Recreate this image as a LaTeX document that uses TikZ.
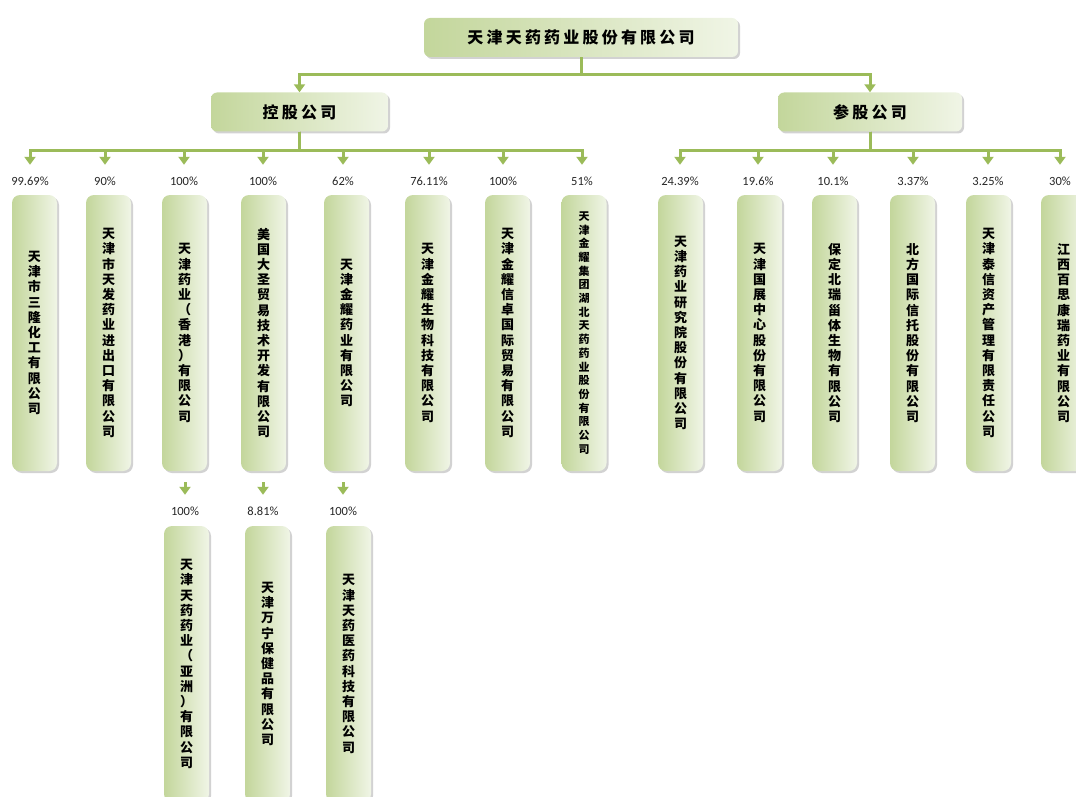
\documentclass[tikz,border=0pt]{standalone}
\usepackage{fontspec}
\setmainfont{Carlito}
\newfontfamily\cjk{Noto Sans CJK SC}
\usetikzlibrary{arrows.meta,shadows}
\definecolor{linegreen}{HTML}{9BBB59}
\definecolor{boxdark}{HTML}{C3D69B}
\definecolor{boxlight}{HTML}{F0F5E6}
% one character per line
\newcommand\vchars[1]{\vcharsloop#1\relax}
\def\vcharsloop#1{\ifx#1\relax\else#1\par\expandafter\vcharsloop\fi}
\tikzstyle{title}=[rectangle,rounded corners=6pt,minimum height=39pt,text centered,left color=boxdark,right color=boxlight,drop shadow={shadow xshift=2pt,shadow yshift=-2pt,fill=black!35},font=\cjk\bfseries\fontsize{16}{18}\selectfont\addfontfeature{LetterSpace=20}]
\tikzstyle{company}=[rectangle,rounded corners=8pt,minimum width=45pt,minimum height=276pt,text width=16pt,align=center,inner sep=0pt,left color=boxdark,right color=boxlight,drop shadow={shadow xshift=2pt,shadow yshift=-2pt,fill=black!35},font=\cjk\bfseries\fontsize{13}{15.2}\selectfont]
\tikzstyle{smallcompany}=[company,font=\cjk\bfseries\fontsize{11}{13.7}\selectfont]
\tikzstyle{pct}=[inner sep=0pt,text height=8pt,text depth=0pt,text=black!85,font=\fontsize{12.5}{12.5}\selectfont]
\tikzstyle{arrow}=[line width=3pt,draw=linegreen,-{Triangle[width=11pt,length=8pt]}]

\begin{document}
\begin{tikzpicture}[x=1pt,y=-1pt]
            \useasboundingbox (0,0) rectangle (1076,797);
            \node (top)[title,minimum width=314pt] at (581,37.5) {天津天药药业股份有限公司};
            \node (kg)[title,minimum width=177pt] at (299.5,112) {控股公司};
            \node (cg)[title,minimum width=184pt] at (870,112) {参股公司};
            \draw [arrow] (top.south) -- ++(0,17) -| (kg.north);
            \draw [arrow] (top.south) -- ++(0,17) -| (cg.north);
            % 控股公司
            \node (pA1)[pct] at (30,181) {99.69\%};
            \node (pA2)[pct] at (105,181) {90\%};
            \node (pA3)[pct] at (184,181) {100\%};
            \node (pA4)[pct] at (263,181) {100\%};
            \node (pA5)[pct] at (343,181) {62\%};
            \node (pA6)[pct] at (429,181) {76.11\%};
            \node (pA7)[pct] at (503,181) {100\%};
            \node (pA8)[pct] at (582,181) {51\%};
            \node (bA1)[company] at (34.5,333) {\vchars{天津市三隆化工有限公司}};
            \node (bA2)[company] at (108.5,333) {\vchars{天津市天发药业进出口有限公司}};
            \node (bA3)[company] at (184.5,333) {\vchars{天津药业（香港）有限公司}};
            \node (bA4)[company] at (263.5,333) {\vchars{美国大圣贸易技术开发有限公司}};
            \node (bA5)[company] at (346.5,333) {\vchars{天津金耀药业有限公司}};
            \node (bA6)[company] at (427.5,333) {\vchars{天津金耀生物科技有限公司}};
            \node (bA7)[company] at (507.5,333) {\vchars{天津金耀信卓国际贸易有限公司}};
            \node (bA8)[smallcompany] at (584,333) {\vchars{天津金耀集团湖北天药药业股份有限公司}};
            \draw [arrow,shorten >=12pt] (kg.south) -- ++(0,19) -| (pA1.north);
            \draw [arrow,shorten >=12pt] (kg.south) -- ++(0,19) -| (pA2.north);
            \draw [arrow,shorten >=12pt] (kg.south) -- ++(0,19) -| (pA3.north);
            \draw [arrow,shorten >=12pt] (kg.south) -- ++(0,19) -| (pA4.north);
            \draw [arrow,shorten >=12pt] (kg.south) -- ++(0,19) -| (pA5.north);
            \draw [arrow,shorten >=12pt] (kg.south) -- ++(0,19) -| (pA6.north);
            \draw [arrow,shorten >=12pt] (kg.south) -- ++(0,19) -| (pA7.north);
            \draw [arrow,shorten >=12pt] (kg.south) -- ++(0,19) -| (pA8.north);
            % 参股公司
            \node (pB1)[pct] at (680,181) {24.39\%};
            \node (pB2)[pct] at (758,181) {19.6\%};
            \node (pB3)[pct] at (833,181) {10.1\%};
            \node (pB4)[pct] at (913,181) {3.37\%};
            \node (pB5)[pct] at (988,181) {3.25\%};
            \node (pB6)[pct] at (1060,181) {30\%};
            \node (bB1)[company] at (680.5,333) {\vchars{天津药业研究院股份有限公司}};
            \node (bB2)[company] at (759.5,333) {\vchars{天津国展中心股份有限公司}};
            \node (bB3)[company] at (834.5,333) {\vchars{保定北瑞甾体生物有限公司}};
            \node (bB4)[company] at (912.5,333) {\vchars{北方国际信托股份有限公司}};
            \node (bB5)[company] at (988.5,333) {\vchars{天津泰信资产管理有限责任公司}};
            \node (bB6)[company] at (1063.5,333) {\vchars{江西百思康瑞药业有限公司}};
            \draw [arrow,shorten >=12pt] (cg.south) -- ++(0,19) -| (pB1.north);
            \draw [arrow,shorten >=12pt] (cg.south) -- ++(0,19) -| (pB2.north);
            \draw [arrow,shorten >=12pt] (cg.south) -- ++(0,19) -| (pB3.north);
            \draw [arrow,shorten >=12pt] (cg.south) -- ++(0,19) -| (pB4.north);
            \draw [arrow,shorten >=12pt] (cg.south) -- ++(0,19) -| (pB5.north);
            \draw [arrow,shorten >=12pt] (cg.south) -- ++(0,19) -| (pB6.north);
            % 下一级
            \node (pC1)[pct] at (185,511) {100\%};
            \node (pC2)[pct] at (263,511) {8.81\%};
            \node (pC3)[pct] at (343,511) {100\%};
            \node (bC1)[company] at (186.5,664) {\vchars{天津天药药业（亚洲）有限公司}};
            \node (bC2)[company] at (267.5,664) {\vchars{天津万宁保健品有限公司}};
            \node (bC3)[company] at (348.5,664) {\vchars{天津天药医药科技有限公司}};
            \draw [arrow,shorten <=11pt,shorten >=12pt] (pC1.north |- bA3.south) -- (pC1.north);
            \draw [arrow,shorten <=11pt,shorten >=12pt] (pC2.north |- bA4.south) -- (pC2.north);
            \draw [arrow,shorten <=11pt,shorten >=12pt] (pC3.north |- bA5.south) -- (pC3.north);
        \end{tikzpicture}
\end{document}
